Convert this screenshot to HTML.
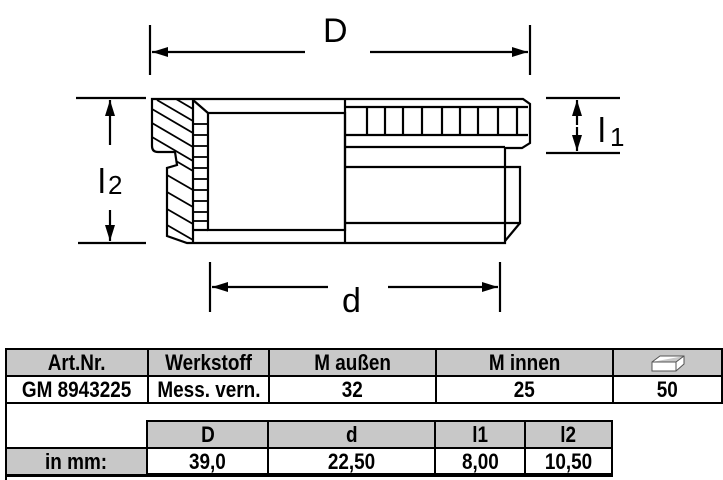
<!DOCTYPE html>
<html><head><style>
body{margin:0;background:#fff;width:723px;height:480px;overflow:hidden;position:relative;font-family:"Liberation Sans",Arial,sans-serif}
svg{position:absolute;left:0;top:0}
.t{position:absolute;border-collapse:collapse;font-weight:bold;font-size:22px;text-align:center}
.t td{border:2px solid #000;padding:0;height:25px;line-height:25px;white-space:nowrap;overflow:hidden}
.t td span{display:inline-block;transform:scaleX(0.86)}
.g{background:#c8c8c8}
</style></head><body>
<svg width="723" height="480" viewBox="0 0 723 480">
<defs><marker id="a" viewBox="0 0 16 10" refX="16" refY="5" markerWidth="16" markerHeight="10" orient="auto" markerUnits="userSpaceOnUse"><path d="M0,0L16,5L0,10z" fill="#000"/></marker></defs>
<g stroke="#000" stroke-width="2.2" fill="none">
<line x1="150" y1="25" x2="150" y2="75"/><line x1="530" y1="25" x2="530" y2="75"/>
<line x1="305" y1="52" x2="152" y2="52" marker-end="url(#a)"/><line x1="370" y1="52" x2="528" y2="52" marker-end="url(#a)"/>
<line x1="210" y1="262" x2="210" y2="312"/><line x1="500" y1="262" x2="500" y2="312"/>
<line x1="328" y1="287" x2="212" y2="287" marker-end="url(#a)"/><line x1="388" y1="287" x2="498" y2="287" marker-end="url(#a)"/>
<line x1="76" y1="98" x2="146" y2="98"/><line x1="78" y1="243" x2="146" y2="243"/>
<line x1="110" y1="145" x2="110" y2="100" marker-end="url(#a)"/><line x1="110" y1="210" x2="110" y2="241" marker-end="url(#a)"/>
<line x1="546" y1="98" x2="620" y2="98"/><line x1="546" y1="153" x2="620" y2="153"/>
<line x1="577" y1="125" x2="577" y2="100" marker-end="url(#a)"/><line x1="577" y1="127" x2="577" y2="151" marker-end="url(#a)"/>
<path d="M152,99 L523,99 L530,104 L530,143 L522,148 L505,148 L505,243 L187,243 L167,236 L167,168 L177,165 L175,152 L158,152 Q152,152 152,146 Z"/>
<line x1="193" y1="99" x2="193" y2="243"/>
<line x1="193" y1="100" x2="208" y2="113"/>
<rect x="208" y="113" width="137" height="117"/>
<line x1="193" y1="230" x2="208" y2="230"/>
<line x1="345" y1="99" x2="345" y2="243"/>
<line x1="345" y1="107" x2="528" y2="107"/>
<line x1="345" y1="135" x2="528" y2="135"/>
<line x1="345" y1="147" x2="505" y2="147"/>
<g><line x1="367" y1="107" x2="367" y2="135"/><line x1="385" y1="107" x2="385" y2="135"/><line x1="403" y1="107" x2="403" y2="135"/><line x1="422" y1="107" x2="422" y2="135"/><line x1="442" y1="107" x2="442" y2="135"/><line x1="460" y1="107" x2="460" y2="135"/><line x1="478" y1="107" x2="478" y2="135"/><line x1="498" y1="107" x2="498" y2="135"/><line x1="517" y1="107" x2="517" y2="135"/></g>
<path d="M345,167 L520,167 L520,223 L345,223"/>
<line x1="520" y1="223" x2="505" y2="241"/>
<g stroke-width="1.8">
<line x1="193" y1="124" x2="208" y2="124"/><line x1="193" y1="135" x2="208" y2="135"/><line x1="193" y1="146" x2="208" y2="146"/><line x1="193" y1="157" x2="208" y2="157"/><line x1="193" y1="168" x2="208" y2="168"/><line x1="193" y1="179" x2="208" y2="179"/><line x1="193" y1="190" x2="208" y2="190"/><line x1="193" y1="201" x2="208" y2="201"/><line x1="193" y1="212" x2="208" y2="212"/><line x1="193" y1="221" x2="208" y2="221"/>
<line x1="176" y1="99" x2="193" y2="109"/><line x1="157" y1="100" x2="193" y2="121"/><line x1="152" y1="109" x2="193" y2="133"/><line x1="152" y1="123" x2="193" y2="147"/><line x1="152" y1="137" x2="193" y2="161"/><line x1="176" y1="161" x2="193" y2="171"/><line x1="167" y1="175" x2="193" y2="190"/><line x1="167" y1="192" x2="193" y2="207"/><line x1="167" y1="209" x2="193" y2="224"/><line x1="167" y1="225" x2="193" y2="240"/>
</g>
</g>
<g font-family="Liberation Sans,Arial,sans-serif" fill="#000">
<text x="323" y="42" font-size="34">D</text>
<text x="342" y="312" font-size="34">d</text>
<text x="98" y="193" font-size="34">l</text><text x="108" y="194" font-size="26">2</text>
<text x="598" y="142" font-size="34">l</text><text x="610" y="146" font-size="26">1</text>
</g>
<g stroke="#000" fill="none">
<line x1="6" y1="349" x2="6" y2="480" stroke-width="2"/>
<line x1="5" y1="475" x2="613" y2="475" stroke-width="4"/>
</g>
</svg>
<table class="t" style="left:5px;top:348px;width:718px;table-layout:fixed">
<tr class="g"><td style="width:140px"><span>Art.Nr.</span></td><td style="width:119px"><span>Werkstoff</span></td><td style="width:165px"><span>M außen</span></td><td style="width:175px"><span>M innen</span></td><td><svg width="40" height="22" style="position:static;vertical-align:middle"><path d="M4,18 L4,9 L12,3 L36,3 L36,11 L28,18 Z M4,9 L28,9 L36,3 M28,9 L28,18" fill="#fff" stroke="#555" stroke-width="1"/></svg></td></tr>
<tr><td><span>GM 8943225</span></td><td><span>Mess. vern.</span></td><td><span>32</span></td><td><span>25</span></td><td><span>50</span></td></tr>
</table>
<table class="t" style="left:5px;top:420px;width:608px;table-layout:fixed">
<tr><td style="width:140px;border-top:none;border-left:none;border-bottom:2px solid #000"></td><td class="g" style="width:119px"><span>D</span></td><td class="g" style="width:165px"><span>d</span></td><td class="g" style="width:88px"><span>l1</span></td><td class="g"><span>l2</span></td></tr>
<tr><td class="g"><span>in mm:</span></td><td><span>39,0</span></td><td><span>22,50</span></td><td><span>8,00</span></td><td><span>10,50</span></td></tr>
</table>
</body></html>
